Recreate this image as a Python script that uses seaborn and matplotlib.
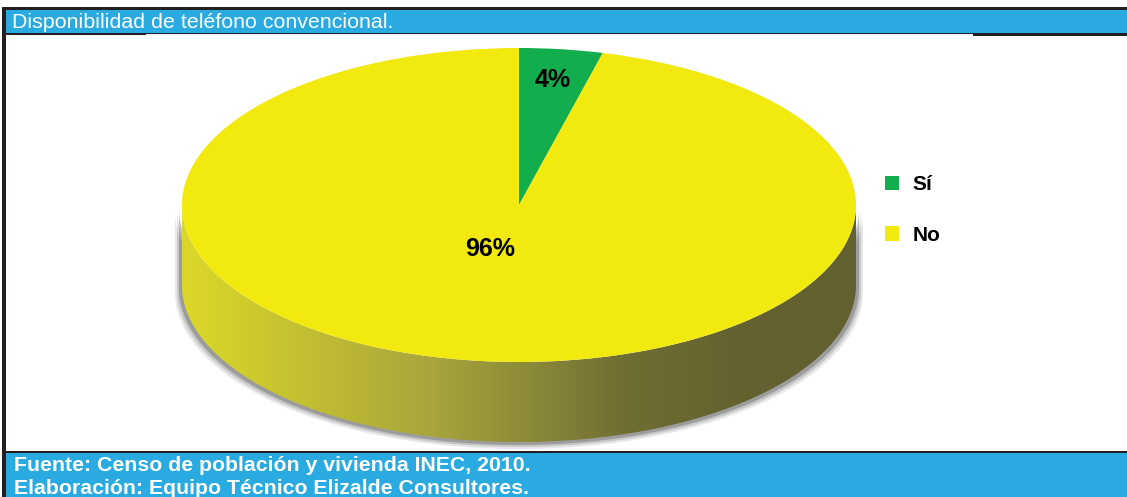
import matplotlib
matplotlib.use('Agg')
import matplotlib.pyplot as plt
import numpy as np
import seaborn as sns
from matplotlib.patches import Rectangle, Polygon
from matplotlib.colors import LinearSegmentedColormap


# Datos del grafico
categorias = ['Sí', 'No']
porcentajes = [4, 96]
colores = ['#12ad4c', '#f2e90e']

titulo = 'Disponibilidad de teléfono convencional.'
fuente = 'Fuente: Censo de población y vivienda INEC, 2010.'
elaboracion = 'Elaboración: Equipo Técnico Elizalde Consultores.'


sns.set_theme(style='white')
plt.rcParams['font.family'] = ['Liberation Sans', 'DejaVu Sans']

W, H = 1127, 497
azul = '#29abe2'
negro = '#231f20'

fig = plt.figure(figsize=(W/100, H/100), dpi=100)

## Marco (coordenadas en pixeles)
bg = fig.add_axes([0, 0, 1, 1])
bg.set_xlim(0, W)
bg.set_ylim(H, 0)
bg.axis('off')
bg.add_patch(Rectangle((3, 7), W, 3, color=negro, lw=0))
bg.add_patch(Rectangle((3, 10), W, 23, color=azul, lw=0))
bg.add_patch(Rectangle((3, 33), W, 1.2, color=negro, lw=0))
bg.add_patch(Rectangle((3, 33), 143, 2, color=negro, lw=0))
bg.add_patch(Rectangle((973, 33), W, 2.5, color=negro, lw=0))
bg.add_patch(Rectangle((3, 451), W, 2, color=negro, lw=0))
bg.add_patch(Rectangle((3, 453), W, H, color=azul, lw=0))
bg.add_patch(Rectangle((2, 7), 4, H, color=negro, lw=0))

bg.text(12, 22, titulo, color='white', fontsize=15.4, va='center')
bg.text(14, 471, fuente, color='white', fontsize=15.3, fontweight='bold', va='baseline')
bg.text(14, 494, elaboracion, color='white', fontsize=15.3, fontweight='bold', va='baseline')


## Pastel 3D
cx, cy, rx, ry = 519, 205, 337, 157
d = 80 / ry

ax = fig.add_axes([0, 0, 1, 1])
ax.patch.set_alpha(0)

wedges, texts, autotexts = ax.pie(porcentajes, colors=colores, startangle=90,
                                  counterclock=False, autopct='%.0f%%',
                                  pctdistance=0.8,
                                  textprops=dict(fontsize=18, fontweight='bold', color='black'),
                                  wedgeprops=dict(linewidth=0, zorder=3))
for t in autotexts:
    t.set_zorder(5)
autotexts[1].set_position(((490 - cx) / rx, (cy - 249) / ry))

# lado del cilindro
t = np.linspace(np.pi, 2*np.pi, 200)
verts = np.concatenate([np.c_[np.cos(t), np.sin(t)],
                        np.c_[np.cos(t[::-1]), np.sin(t[::-1]) - d]])

# sombra
for k, a in [(7, 0.12), (5, 0.18), (3, 0.3)]:
    sv = verts * [1 + k/rx, 1] + [0, -k/ry]
    ax.add_patch(Polygon(sv, closed=True, color='#3a3a3a', alpha=a, lw=0, zorder=1))

lado = Polygon(verts, closed=True, transform=ax.transData)
cmap = LinearSegmentedColormap.from_list('lado', [(0, '#dcd829'), (0.368, '#a8a63c'),
                                                  (0.665, '#6e6d33'), (0.857, '#62612f'),
                                                  (1, '#62612f')])
im = ax.imshow(np.linspace(0, 1, 256)[None, :], extent=(-1, 1, -1 - d, 0),
               cmap=cmap, aspect='auto', zorder=2)
im.set_clip_path(lado)

ax.set_aspect('auto')
ax.set_xlim(-cx / rx, (W - cx) / rx)
ax.set_ylim((cy - H) / ry, cy / ry)
ax.axis('off')

leg = ax.legend(wedges, categorias, loc='center left', bbox_to_anchor=(866/W, 1 - 210/H),
                bbox_transform=fig.transFigure, frameon=False, handlelength=0.7,
                handleheight=0.7, handletextpad=0.65, labelspacing=1.5,
                prop=dict(weight='bold', size=15))
for txt in leg.get_texts():
    txt.set_color('black')

fig.savefig('out.png', dpi=100)
